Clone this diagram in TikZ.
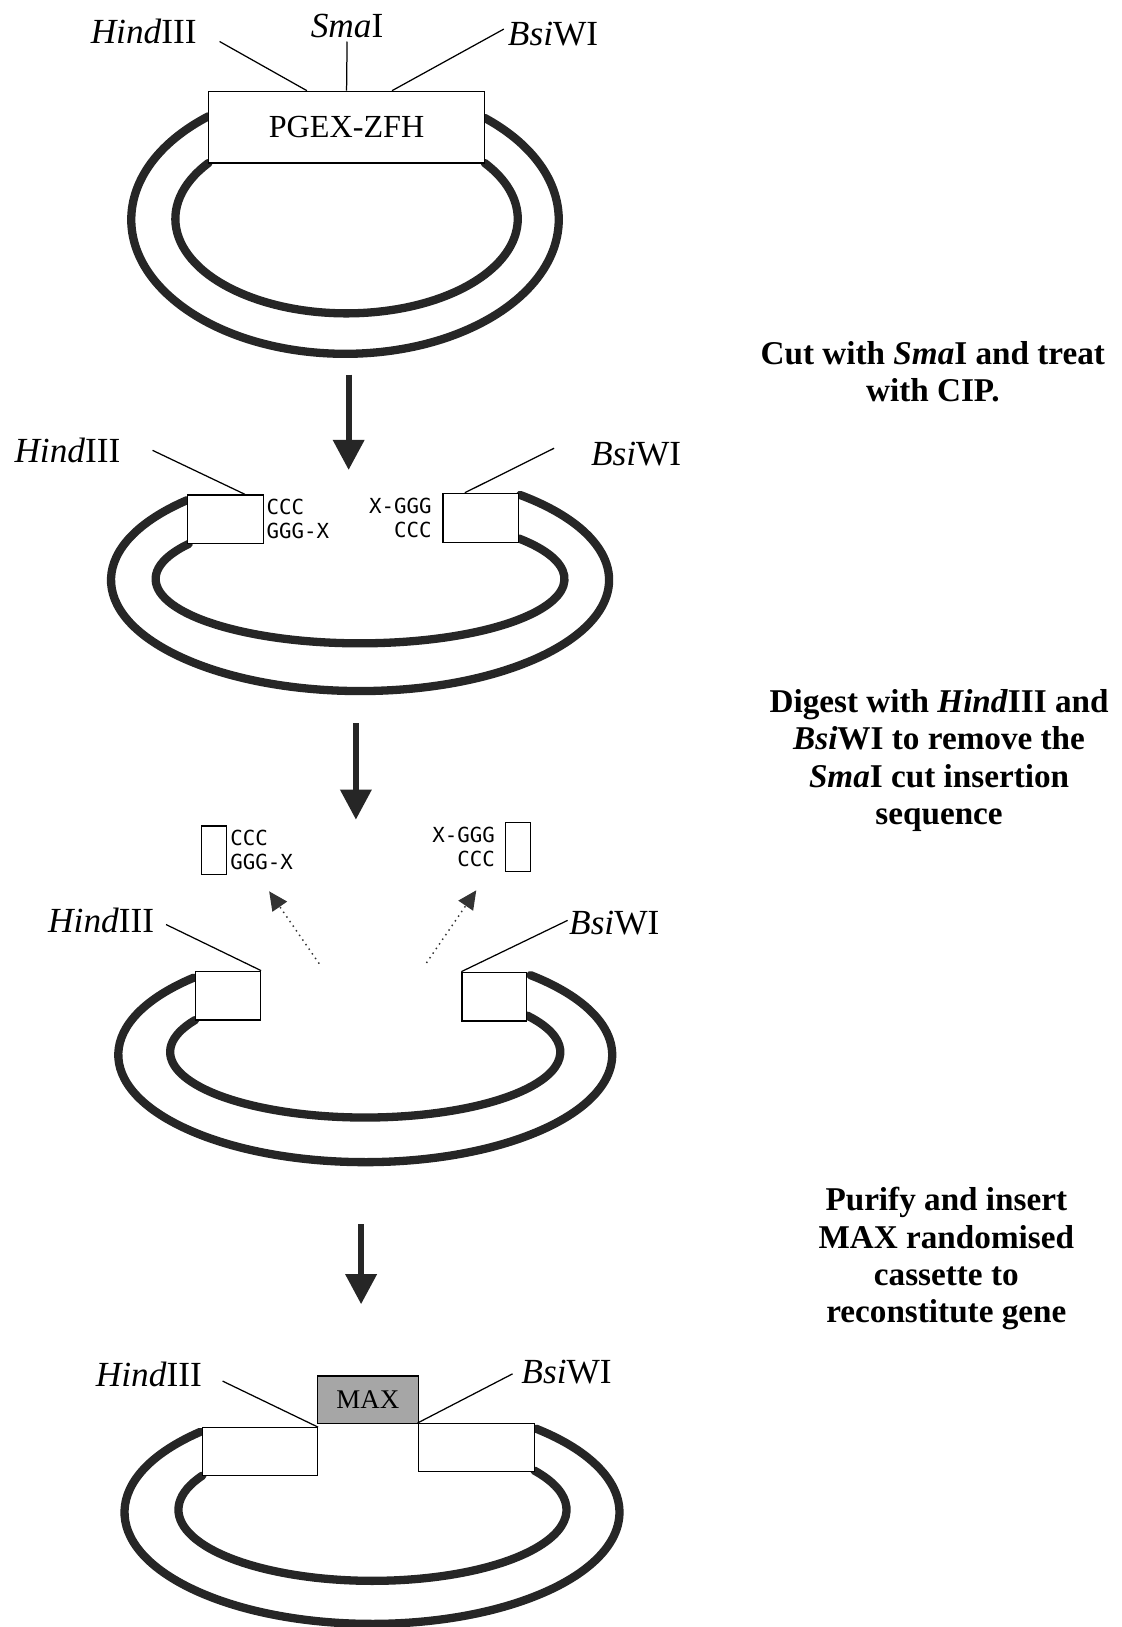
\documentclass[tikz,border=0pt]{standalone}
\usepackage{fontspec}
\setmainfont{Liberation Serif}
\newfontfamily\seqfont{DejaVu Sans Mono}
\usetikzlibrary{arrows.meta,calc}
\tikzset{
  strand/.style = {draw=black!85, line width=4pt, line cap=round},
  site/.style   = {draw=black, fill=white, line width=0.6pt, inner sep=0pt},
  enz/.style    = {font=\fontsize{17}{20}\selectfont, inner sep=0pt, anchor=base},
  cut/.style    = {draw=black, line width=0.6pt},
  seq/.style    = {font=\seqfont\fontsize{10}{11.5}\selectfont, inner sep=1pt},
  stepar/.style = {draw=black!85, line width=3pt,
                   -{Triangle[width=14.5pt,length=14.5pt]}},
  outar/.style  = {draw=black!80, line width=0.7pt, dotted,
                   -{Triangle[width=8.5pt,length=9pt]}},
  note/.style   = {font=\bfseries\fontsize{16}{18}\selectfont, align=center,
                   inner sep=0pt},
}
\begin{document}
\begin{tikzpicture}[x=0.5pt, y=-0.5pt]
  \path[use as bounding box, fill=white] (0,0) rectangle (1081,1568);
  % plasmid strands: centre / radii / start and end angle
  \foreach \cx/\cy/\a/\b/\s/\e in {
      332.5/211.6/206/129.4/230.3/-49.2, 334/210.9/165/91.1/216.3/-36.3,
      347/559/240/107/226/-50,           347/558/197/62/213/-39,
      352/1016.6/238/103.4/226/-48,      352/1013.9/188/63.1/209.3/-33.9,
      358.5/1457.4/238.5/107.6/226/-48.4, 359/1455/187/68.5/208.7/-33.5}
    \draw[strand] ($(\cx,\cy)+(\s:{\a} and {\b})$)
      arc[start angle=\s, end angle=\e, x radius=\a, y radius=\b];

  % intact vector
  \node[site, minimum width=133pt, minimum height=34.5pt,
        font=\fontsize{15.5}{18}\selectfont] (pgex) at (334,122.5) {PGEX-ZFH};
  \node[enz] (hind1) at (138.5,42) {\textit{Hind}III};
  \node[enz] (sma1)  at (334.5,36) {\textit{Sma}I};
  \node[enz] (bsi1)  at (533,44)   {\textit{Bsi}WI};
  \coordinate (hind1t) at (211.6,40);
  \coordinate (sma1t)  at (334.5,40);
  \coordinate (bsi1t)  at (485.6,28);
  \draw[cut] (hind1t) -- ($(pgex.north west)!0.357!(pgex.north east)$);
  \draw[cut] (sma1t) -- (pgex.north);
  \draw[cut] (bsi1t) -- ($(pgex.north west)!0.664!(pgex.north east)$);

  \coordinate (st1a) at (336,361);
  \coordinate (st1b) at (336,453);
  \draw[stepar] (st1a) -- (st1b);
  \node[note] (note1) at (899,358) {Cut with \textit{Sma}I and treat\\with CIP.};

  % opened with SmaI
  \node[site, minimum width=36.5pt, minimum height=23.5pt] (h2) at (217.5,500.5) {};
  \node[site, minimum width=36.5pt, minimum height=23.5pt] (b2) at (463.5,499) {};
  \node[seq, anchor=west, align=left] (h2s) at (h2.east) {CCC\\GGG-X};
  \node[seq, anchor=east, align=right, inner sep=5pt] (b2s) at (b2.west) {X-GGG\\CCC};
  \node[enz] (hind2) at (65,446)  {\textit{Hind}III};
  \node[enz] (bsi2)  at (613,449) {\textit{Bsi}WI};
  \coordinate (hind2t) at (147,434);
  \coordinate (bsi2t)  at (534,432);
  \draw[cut] (hind2t) -- ($(h2.north west)!0.75!(h2.north east)$);
  \draw[cut] (bsi2t) -- ($(b2.north west)!0.29!(b2.north east)$);

  \coordinate (st2a) at (343,697);
  \coordinate (st2b) at (343,790);
  \draw[stepar] (st2a) -- (st2b);
  \node[note] (note2) at (905,733) {Digest with \textit{Hind}III and\\
    \textit{Bsi}WI to remove the\\\textit{Sma}I cut insertion\\sequence};

  % cut out fragments
  \node[site, minimum width=12pt, minimum height=23.5pt] (fh) at (206,819.5) {};
  \node[site, minimum width=12pt, minimum height=23.5pt] (fb) at (499,816.5) {};
  \node[seq, anchor=west, align=left, inner sep=1.5pt] (fhs) at (fh.east) {CCC\\GGG-X};
  \node[seq, anchor=east, align=right, inner sep=4.5pt] (fbs) at (fb.west) {X-GGG\\CCC};
  \coordinate (oh1) at (307.6,928.7);
  \coordinate (oh2) at (259.4,859);
  \coordinate (ob1) at (411,928);
  \coordinate (ob2) at (459,858);
  \draw[outar] (oh1) -- (oh2);
  \draw[outar] (ob1) -- (ob2);

  % digested vector
  \node[site, minimum width=31.25pt, minimum height=23.5pt] (h3) at (219.75,959.5) {};
  \node[site, minimum width=31.25pt, minimum height=23.5pt] (b3) at (476.5,960.5) {};
  \node[enz] (hind3) at (97.5,899) {\textit{Hind}III};
  \node[enz] (bsi3)  at (592,901)  {\textit{Bsi}WI};
  \coordinate (hind3t) at (160,891);
  \coordinate (bsi3t)  at (547,887);
  \draw[cut] (hind3t) -- (h3.north east);
  \draw[cut] (bsi3t) -- (b3.north west);

  \coordinate (st3a) at (348,1180);
  \coordinate (st3b) at (348,1257);
  \draw[stepar] (st3a) -- (st3b);
  \node[note] (note3) at (912,1213) {Purify and insert\\MAX randomised\\
    cassette to\\reconstitute gene};

  % reconstituted gene
  \node[site, minimum width=55.5pt, minimum height=23pt] (h4) at (250.5,1399) {};
  \node[site, minimum width=56pt, minimum height=23pt] (b4) at (459,1395) {};
  \node[site, fill=black!35, minimum width=48.5pt, minimum height=23pt,
        font=\fontsize{13}{15}\selectfont] (max) at (354.5,1349) {MAX};
  \node[enz] (hind4) at (143.5,1336) {\textit{Hind}III};
  \node[enz] (bsi4)  at (546,1333)   {\textit{Bsi}WI};
  \coordinate (hind4t) at (214.5,1331);
  \coordinate (bsi4t)  at (494,1324);
  \draw[cut] (hind4t) -- (h4.north east);
  \draw[cut] (bsi4t) -- (b4.north west);
\end{tikzpicture}
\end{document}
